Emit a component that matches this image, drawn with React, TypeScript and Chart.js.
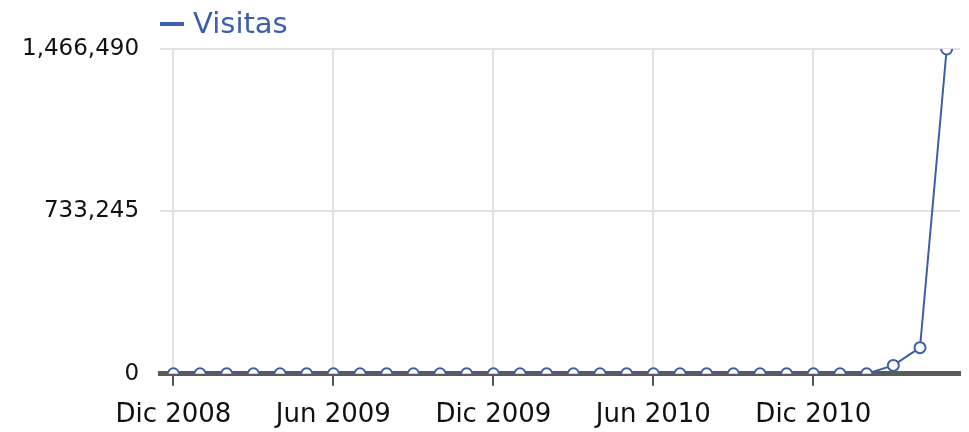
import React, { useEffect, useRef } from "react";
import { Chart, registerables } from "chart.js";

Chart.register(...registerables);

const months = ["Dic", "Ene", "Feb", "Mar", "Abr", "May", "Jun", "Jul", "Ago", "Sep", "Oct", "Nov"];
const startYear = 2008;
const categories: string[] = [];
for (let i = 0; i < 30; i++) {
  const m = months[i % 12];
  const y = startYear + Math.floor((i + 11) / 12);
  categories.push(`${m} ${y}`);
}
const visitas = [
  0, 0, 0, 0, 0, 0, 0, 0, 0, 0, 0, 0, 0, 0, 0, 0, 0, 0, 0, 0, 0, 0, 0, 0, 0, 0, 0,
  38000, 118000, 1466490,
];
const yTicks = [0, 733245, 1466490];
const seriesName = "Visitas";

const BLUE = "#3d5ea8";
const FONT = "'DejaVu Sans', sans-serif";

const legendPlugin = {
  id: "customLegend",
  afterDraw(chart: any) {
    const ctx = chart.ctx;
    const x0 = chart.chartArea.left;
    ctx.save();
    ctx.strokeStyle = BLUE;
    ctx.lineWidth = 4;
    ctx.beginPath();
    ctx.moveTo(x0, 24);
    ctx.lineTo(x0 + 24, 24);
    ctx.stroke();
    ctx.fillStyle = BLUE;
    ctx.font = `29px ${FONT}`;
    ctx.textBaseline = "middle";
    ctx.textAlign = "left";
    ctx.fillText(chart.data.datasets[0].label, x0 + 33, 25);
    ctx.restore();
  },
};

export default function App() {
  const ref = useRef<HTMLCanvasElement | null>(null);
  useEffect(() => {
    document.body.style.margin = "0";
    const chart = new Chart(ref.current!, {
      type: "line",
      data: {
        labels: categories,
        datasets: [
          {
            label: seriesName,
            data: visitas,
            borderColor: BLUE,
            borderWidth: 2,
            pointRadius: 5.5,
            pointBorderWidth: 2,
            pointBackgroundColor: "#ffffff",
            pointBorderColor: BLUE,
            tension: 0,
          },
        ],
      },
      options: {
        animation: false,
        responsive: true,
        maintainAspectRatio: false,
        layout: { padding: { top: 49, left: 1, right: 9, bottom: -13 } },
        plugins: { legend: { display: false }, tooltip: { enabled: false } },
        scales: {
          x: {
            offset: true,
            grid: {
              color: (c: any) => (c.index % 6 === 0 ? "#e2e2e2" : "rgba(0,0,0,0)"),
              lineWidth: 2,
              drawTicks: true,
              tickLength: 12,
              tickColor: (c: any) => (c.index % 6 === 0 ? "#555555" : "rgba(0,0,0,0)"),
            },
            border: { display: true, color: "#5a5a5a", width: 5, z: 0 },
            ticks: {
              autoSkip: false,
              maxRotation: 0,
              padding: 14,
              color: "#111111",
              font: { family: FONT, size: 26 },
              callback: (_v: any, i: number) => (i % 6 === 0 ? categories[i] : ""),
            },
          },
          y: {
            min: 0,
            max: 1466490,
            afterBuildTicks: (s: any) => {
              s.ticks = yTicks.map((v) => ({ value: v }));
            },
            grid: { color: "#e2e2e2", lineWidth: 2, drawTicks: false },
            border: { display: false },
            ticks: {
              padding: 21,
              color: "#111111",
              font: { family: FONT, size: 23 },
              callback: (v: any) => Number(v).toLocaleString("en-US"),
            },
          },
        },
      },
      plugins: [legendPlugin],
    });
    return () => chart.destroy();
  }, []);
  return (
    <div style={{ width: 969, height: 432, position: "relative" }}>
      <canvas ref={ref} />
    </div>
  );
}
